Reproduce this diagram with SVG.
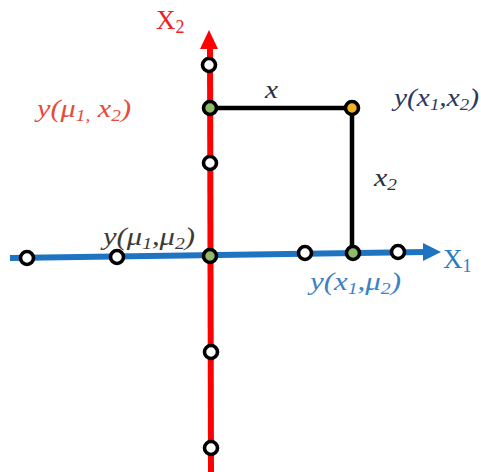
<svg xmlns="http://www.w3.org/2000/svg" width="481" height="472" viewBox="0 0 481 472">
<style>
.pt{stroke:#000;stroke-width:3.6;fill:#fff}
.g{fill:#8dbb6a}
.o{fill:#f2b224}
text{font-family:"Liberation Serif","Times New Roman","DejaVu Serif",serif;font-style:italic;font-size:25px}
.ax{font-style:normal;font-size:27px}
.sub{font-size:16px}
</style>
<rect width="481" height="472" fill="#fff"/>
<g id="connectors">
<line x1="210" y1="46" x2="211" y2="472" stroke="#f00" stroke-width="6"/>
<polygon points="209,30 200,49 218,49" fill="#f00"/>
<line x1="10" y1="258" x2="426" y2="252" stroke="#1f74c2" stroke-width="6"/>
<polygon points="441,252 423,243 423,261" fill="#1f74c2"/>
<polyline points="210,108 352,108 352,253" fill="none" stroke="#000" stroke-width="4.5"/>
</g>
<g id="n1"><circle class="pt" cx="209" cy="65" r="6.5"/></g>
<g id="n2"><circle class="pt g" cx="210" cy="108" r="6.5"/></g>
<g id="n3"><circle class="pt" cx="210" cy="163" r="6.5"/></g>
<g id="n4"><circle class="pt g" cx="210" cy="256" r="6.5"/></g>
<g id="n5"><circle class="pt" cx="211" cy="352" r="6.5"/></g>
<g id="n6"><circle class="pt" cx="211" cy="448" r="6.5"/></g>
<g id="n7"><circle class="pt" cx="27" cy="258" r="6.5"/></g>
<g id="n8"><circle class="pt" cx="117" cy="257" r="6.5"/></g>
<g id="n9"><circle class="pt" cx="305" cy="253" r="6.5"/></g>
<g id="n10"><circle class="pt g" cx="353" cy="253" r="6.5"/></g>
<g id="n11"><circle class="pt" cx="398" cy="252" r="6.5"/></g>
<g id="n12"><circle class="pt o" cx="352" cy="108" r="6.5"/></g>
<g id="labels">
<text class="ax" x="156" y="29" fill="#f0201f">X<tspan font-size="18" dy="4">2</tspan></text>
<text class="ax" x="443" y="268" fill="#2a7bc6">X<tspan font-size="18" dy="4">1</tspan></text>
<text x="265" y="98" fill="#2a3040" textLength="13" lengthAdjust="spacingAndGlyphs">x</text>
<text x="394" y="106" fill="#2c3a5c" textLength="85" lengthAdjust="spacingAndGlyphs">y(x<tspan class="sub" dy="4">1</tspan><tspan dy="-4">,x</tspan><tspan class="sub" dy="4">2</tspan><tspan dy="-4">)</tspan></text>
<text x="37" y="117" fill="#e84a3c" textLength="94" lengthAdjust="spacingAndGlyphs">y(μ<tspan class="sub" dy="4">1,</tspan><tspan dy="-4"> x</tspan><tspan class="sub" dy="4">2</tspan><tspan dy="-4">)</tspan></text>
<text x="374" y="186" fill="#2a3040" textLength="23" lengthAdjust="spacingAndGlyphs">x<tspan class="sub" dy="4">2</tspan></text>
<text x="103" y="245" fill="#3c3a36" textLength="92" lengthAdjust="spacingAndGlyphs">y(μ<tspan class="sub" dy="4">1</tspan><tspan dy="-4">,μ</tspan><tspan class="sub" dy="4">2</tspan><tspan dy="-4">)</tspan></text>
<text x="310" y="290" fill="#3b82c4" textLength="91" lengthAdjust="spacingAndGlyphs">y(x<tspan class="sub" dy="4">1</tspan><tspan dy="-4">,μ</tspan><tspan class="sub" dy="4">2</tspan><tspan dy="-4">)</tspan></text>
</g>
</svg>
